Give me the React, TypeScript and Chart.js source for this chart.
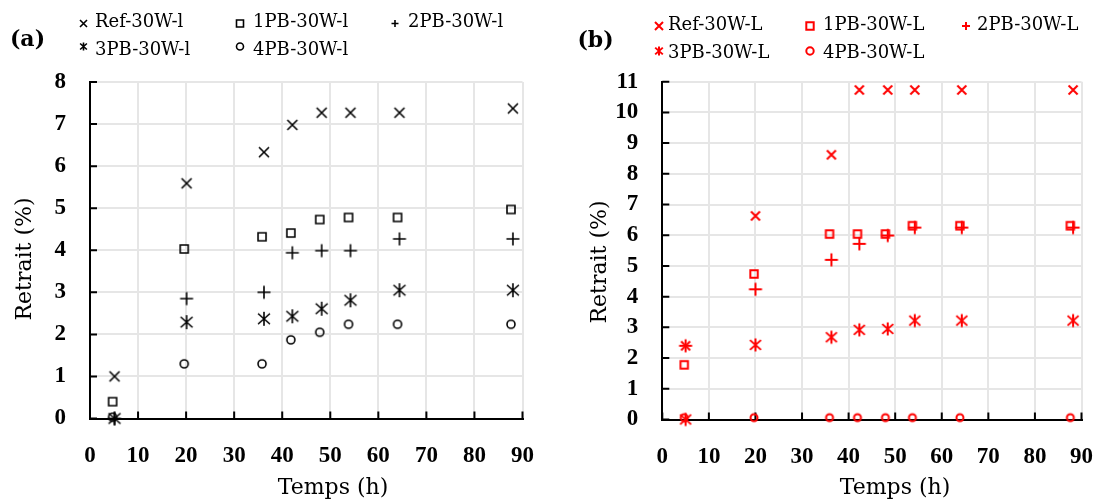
import React, { useEffect, useRef } from 'react';
import { Chart, registerables } from 'chart.js';

Chart.register(...registerables);

// ---------- DATA ----------
// Panel (a) – black markers
const timesA = [5.1, 20.1, 36.2, 42.1, 48.2, 54.2, 64.4, 88];
const timesA2 = [4.7, 19.6, 35.8, 41.8, 47.8, 53.8, 64, 87.6];
const refA = [1.0, 5.59, 6.33, 6.98, 7.27, 7.27, 7.27, 7.37];
const pb1A = [0.4, 4.03, 4.32, 4.41, 4.73, 4.78, 4.78, 4.97];
const pb2A = [0, 2.85, 3.0, 3.94, 3.99, 3.99, 4.27, 4.27];
const pb3A = [0, 2.29, 2.37, 2.43, 2.61, 2.81, 3.05, 3.05];
const pb4A = [0.03, 1.3, 1.3, 1.87, 2.05, 2.24, 2.24, 2.24];
const labelsA = ['Ref-30W-l', '1PB-30W-l', '2PB-30W-l', '3PB-30W-l', '4PB-30W-l'];

// Panel (b) – red markers
const timesB = [5, 20, 36.3, 42.3, 48.4, 54.2, 64.3, 88.2];
const timesB2 = [4.7, 19.7, 35.9, 41.9, 47.9, 53.7, 63.9, 87.6];
const refB = [2.4, 6.63, 8.62, 10.73, 10.73, 10.73, 10.73, 10.73];
const pb1B = [1.78, 4.74, 6.04, 6.04, 6.04, 6.31, 6.31, 6.31];
const pb2B = [2.4, 4.24, 5.2, 5.72, 5.99, 6.25, 6.25, 6.25];
const pb3B = [0, 2.43, 2.68, 2.92, 2.95, 3.22, 3.22, 3.22];
const pb4B = [0.06, 0.06, 0.06, 0.06, 0.06, 0.06, 0.06, 0.06];
const labelsB = ['Ref-30W-L', '1PB-30W-L', '2PB-30W-L', '3PB-30W-L', '4PB-30W-L'];

const xTitle = 'Temps (h)';
const yTitle = 'Retrait (%)';
const xTickStep = 10;
const xMax = 90;
const yMaxA = 8;
const yMaxB = 11;
const markerTypes = ['x', 'square', 'plus', 'asterisk', 'circle'];

// ---------- DRAWING HELPERS ----------
type Shape = 'x' | 'square' | 'plus' | 'asterisk' | 'circle' | string;

function drawShape(ctx: CanvasRenderingContext2D, type: Shape, cx: number, cy: number, h: number, color: string, lw: number) {
  ctx.save();
  ctx.strokeStyle = color;
  ctx.lineWidth = lw;
  ctx.lineCap = 'butt';
  ctx.beginPath();
  if (type === 'x') {
    ctx.moveTo(cx - h, cy - h); ctx.lineTo(cx + h, cy + h);
    ctx.moveTo(cx + h, cy - h); ctx.lineTo(cx - h, cy + h);
  } else if (type === 'square') {
    ctx.rect(cx - h, cy - h, 2 * h, 2 * h);
  } else if (type === 'plus') {
    ctx.moveTo(cx - h, cy); ctx.lineTo(cx + h, cy);
    ctx.moveTo(cx, cy - h); ctx.lineTo(cx, cy + h);
  } else if (type === 'asterisk') {
    const hx = h * 0.85, hy = h * 0.75;
    ctx.moveTo(cx, cy - h); ctx.lineTo(cx, cy + h);
    ctx.moveTo(cx - hx, cy - hy); ctx.lineTo(cx + hx, cy + hy);
    ctx.moveTo(cx + hx, cy - hy); ctx.lineTo(cx - hx, cy + hy);
  } else if (type === 'circle') {
    ctx.arc(cx, cy, h, 0, Math.PI * 2);
  }
  ctx.stroke();
  ctx.restore();
}

function makeMarker(type: Shape, h: number, color: string, lw: number): HTMLCanvasElement {
  let s = Math.ceil(2 * h + lw + 2);
  if (s % 2 === 1) s += 1;
  const c = document.createElement('canvas');
  c.width = s;
  c.height = s;
  const ctx = c.getContext('2d')!;
  drawShape(ctx, type, s / 2, s / 2, h, color, lw);
  return c;
}

interface PanelSpec {
  id: string;
  color: string;
  lw: number;
  sizes: number[];
  legendSizes: number[];
  times: number[][];
  values: number[][];
  labels: string[];
  yMax: number;
  width: number;
  yAxisWidth: number;
  rightPad: number;
  top: number;
  xAxisHeight: number;
  legend: { mx: number[]; tx: number[]; my: number[]; by: number[] };
  tag: { x: number; y: number };
  xTitlePos: { x: number; y: number };
  yTitlePos: { x: number; y: number };
}

const specA: PanelSpec = {
  id: '(a)',
  color: '#000000',
  lw: 1.6,
  sizes: [5, 4, 6.5, 7, 4],
  legendSizes: [3.5, 3.5, 3.5, 4, 3.5],
  times: [timesA, timesA2, timesA, timesA, timesA2],
  values: [refA, pb1A, pb2A, pb3A, pb4A],
  labels: labelsA,
  yMax: yMaxA,
  width: 558,
  yAxisWidth: 90,
  rightPad: 25,
  top: 82,
  xAxisHeight: 85.5,
  legend: { mx: [83.5, 240, 395, 83.5, 240], tx: [95, 253, 408, 95, 253], my: [23.5, 23.5, 23.5, 46.5, 46.5], by: [27, 27, 27, 55, 55] },
  tag: { x: 27.5, y: 40 },
  xTitlePos: { x: 333, y: 488 },
  yTitlePos: { x: 25, y: 259 },
};

const specB: PanelSpec = {
  id: '(b)',
  color: '#ff0000',
  lw: 2,
  sizes: [4.5, 3.7, 6.5, 6.5, 3.5],
  legendSizes: [4, 3.7, 4, 4.5, 3.7],
  times: [timesB, timesB2, timesB, timesB, timesB2],
  values: [refB, pb1B, pb2B, pb3B, pb4B],
  labels: labelsB,
  yMax: yMaxB,
  width: 559,
  yAxisWidth: 104.3,
  rightPad: 15.3,
  top: 81.7,
  xAxisHeight: 84.5,
  legend: { mx: [101, 252, 408, 101, 252], tx: [110, 265, 419, 110, 265], my: [26, 26, 26, 51, 51], by: [30, 30, 30, 58, 58] },
  tag: { x: 37.5, y: 41 },
  xTitlePos: { x: 337, y: 488 },
  yTitlePos: { x: 42, y: 262 },
};

function buildConfig(spec: PanelSpec): any {
  const datasets = spec.values.map((vals, k) => ({
    label: spec.labels[k],
    data: vals.map((v, i) => ({ x: spec.times[k][i], y: v })),
    showLine: false,
    pointStyle: makeMarker(markerTypes[k], spec.sizes[k], spec.color, spec.lw),
    pointRadius: 6,
    pointHoverRadius: 6,
    clip: false,
    borderColor: spec.color,
    backgroundColor: spec.color,
  }));

  const decor = {
    id: 'decor' + spec.id,
    beforeDatasetsDraw(chart: any) {
      const { ctx, chartArea, scales } = chart;
      ctx.save();
      ctx.strokeStyle = '#000';
      ctx.lineWidth = 2;
      ctx.beginPath();
      for (let v = 0; v <= xMax; v += xTickStep) {
        const px = scales.x.getPixelForValue(v);
        ctx.moveTo(px, chartArea.bottom);
        ctx.lineTo(px, chartArea.bottom - 7);
      }
      for (let v = 0; v <= spec.yMax; v += 1) {
        const py = scales.y.getPixelForValue(v);
        ctx.moveTo(chartArea.left, py);
        ctx.lineTo(chartArea.left + 7, py);
      }
      ctx.stroke();
      ctx.restore();
    },
    afterDraw(chart: any) {
      const { ctx } = chart;
      ctx.save();
      ctx.fillStyle = '#000';
      // panel tag
      ctx.font = 'bold 22px "DejaVu Serif"';
      ctx.textAlign = 'center';
      ctx.textBaseline = 'middle';
      ctx.fillText(spec.id, spec.tag.x, spec.tag.y);
      // axis titles
      ctx.font = '22px "DejaVu Serif"';
      ctx.fillText(xTitle, spec.xTitlePos.x, spec.xTitlePos.y);
      ctx.save();
      ctx.translate(spec.yTitlePos.x, spec.yTitlePos.y);
      ctx.rotate(-Math.PI / 2);
      ctx.fillText(yTitle, 0, 0);
      ctx.restore();
      // legend
      ctx.font = '18px "DejaVu Serif"';
      ctx.textAlign = 'left';
      ctx.textBaseline = 'alphabetic';
      spec.labels.forEach((lab, k) => {
        drawShape(ctx, markerTypes[k], spec.legend.mx[k], spec.legend.my[k], spec.legendSizes[k], spec.color, spec.lw);
        ctx.fillStyle = '#000';
        ctx.fillText(lab, spec.legend.tx[k], spec.legend.by[k]);
      });
      ctx.restore();
    },
  };

  return {
    type: 'scatter',
    data: { datasets },
    plugins: [decor],
    options: {
      animation: false,
      responsive: false,
      maintainAspectRatio: false,
      devicePixelRatio: 1,
      layout: { padding: { left: 0, right: spec.rightPad, top: spec.top, bottom: 0 } },
      plugins: { legend: { display: false }, tooltip: { enabled: false } },
      scales: {
        x: {
          type: 'linear',
          min: 0,
          max: xMax,
          afterFit: (s: any) => { s.height = spec.xAxisHeight; },
          ticks: {
            stepSize: xTickStep,
            color: '#000',
            padding: 24,
            maxRotation: 0,
            font: { family: '"Liberation Serif"', size: 23, weight: 'bold' },
          },
          grid: { color: '#e6e6e6', lineWidth: 2, drawTicks: false },
          border: { display: true, color: '#000', width: 2 },
          title: { display: false },
        },
        y: {
          type: 'linear',
          min: 0,
          max: spec.yMax,
          afterFit: (s: any) => { s.width = spec.yAxisWidth; },
          ticks: {
            stepSize: 1,
            color: '#000',
            padding: 24,
            font: { family: '"Liberation Serif"', size: 23, weight: 'bold' },
          },
          grid: { color: '#e6e6e6', lineWidth: 2, drawTicks: false },
          border: { display: true, color: '#000', width: 2 },
          title: { display: false },
        },
      },
    },
  };
}

function Panel({ spec }: { spec: PanelSpec }) {
  const ref = useRef<HTMLCanvasElement | null>(null);
  useEffect(() => {
    if (!ref.current) return;
    const chart = new Chart(ref.current, buildConfig(spec));
    return () => chart.destroy();
  }, [spec]);
  return <canvas ref={ref} width={spec.width} height={504} style={{ display: 'block', width: spec.width, height: 504 }} />;
}

export default function App() {
  return (
    <div style={{ position: 'fixed', left: 0, top: 0, width: 1117, height: 504, display: 'flex', background: '#fff' }}>
      <Panel spec={specA} />
      <Panel spec={specB} />
    </div>
  );
}
